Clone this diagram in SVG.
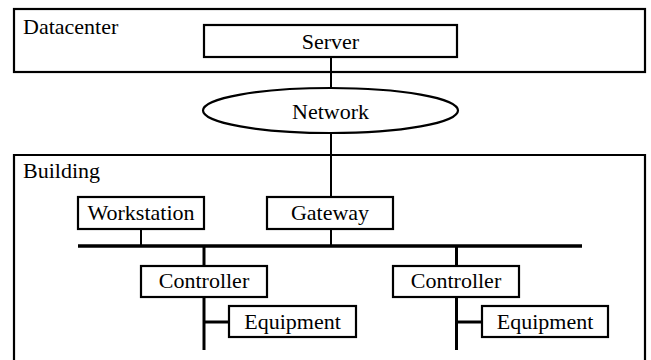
<svg xmlns="http://www.w3.org/2000/svg" width="651" height="360" viewBox="0 0 651 360">
  <rect width="651" height="360" fill="#fff"/>

  <!-- zones -->
  <g id="datacenter">
    <rect x="14" y="9" width="631" height="63" fill="none" stroke="#000" stroke-width="2.2"/>
    <text x="23" y="34" style="font-family: 'Times New Roman', serif; font-size: 22px">Datacenter</text>
  </g>
  <g id="building">
    <path d="M14,370 V155 H645 V370" fill="none" stroke="#000" stroke-width="2.2"/>
    <text x="23" y="178" style="font-family: 'Times New Roman', serif; font-size: 22px">Building</text>
  </g>

  <!-- connectors -->
  <g id="connectors" stroke="#000" fill="none">
    <g stroke-width="2">
      <line x1="331" y1="57" x2="331" y2="88"/>
      <line x1="331" y1="133" x2="331" y2="197"/>
      <line x1="141" y1="229" x2="141" y2="246"/>
      <line x1="331" y1="229" x2="331" y2="246"/>
    </g>
    <line x1="78" y1="246" x2="582" y2="246" stroke-width="3.5"/>
    <g stroke-width="3">
      <line x1="204" y1="246" x2="204" y2="266"/>
      <line x1="456.5" y1="246" x2="456.5" y2="266"/>
      <line x1="204" y1="297" x2="204" y2="350"/>
      <line x1="204" y1="322" x2="229" y2="322"/>
      <line x1="456.5" y1="297" x2="456.5" y2="350"/>
      <line x1="456.5" y1="322" x2="482" y2="322"/>
    </g>
  </g>

  <!-- nodes -->
  <g id="server">
    <rect x="204" y="25" width="253" height="32" fill="#fff" stroke="#000" stroke-width="2.2"/>
    <text x="330.5" y="49" text-anchor="middle" style="font-family: 'Times New Roman', serif; font-size: 22px">Server</text>
  </g>
  <g id="network">
    <ellipse cx="330.5" cy="110.5" rx="127.5" ry="22.5" fill="#fff" stroke="#000" stroke-width="2.2"/>
    <text x="330.5" y="119" text-anchor="middle" style="font-family: 'Times New Roman', serif; font-size: 22px">Network</text>
  </g>
  <g id="workstation">
    <rect x="78" y="197" width="126" height="32" fill="#fff" stroke="#000" stroke-width="2.2"/>
    <text x="141" y="220" text-anchor="middle" style="font-family: 'Times New Roman', serif; font-size: 22px">Workstation</text>
  </g>
  <g id="gateway">
    <rect x="267" y="197" width="126" height="32" fill="#fff" stroke="#000" stroke-width="2.2"/>
    <text x="330" y="220" text-anchor="middle" style="font-family: 'Times New Roman', serif; font-size: 22px">Gateway</text>
  </g>
  <g id="controller1">
    <rect x="141" y="266" width="126" height="31" fill="#fff" stroke="#000" stroke-width="2.2"/>
    <text x="204" y="288" text-anchor="middle" style="font-family: 'Times New Roman', serif; font-size: 22px">Controller</text>
  </g>
  <g id="controller2">
    <rect x="393" y="266" width="126" height="31" fill="#fff" stroke="#000" stroke-width="2.2"/>
    <text x="456" y="288" text-anchor="middle" style="font-family: 'Times New Roman', serif; font-size: 22px">Controller</text>
  </g>
  <g id="equipment1">
    <rect x="229" y="306" width="127" height="31" fill="#fff" stroke="#000" stroke-width="2.2"/>
    <text x="292.5" y="329" text-anchor="middle" style="font-family: 'Times New Roman', serif; font-size: 22px">Equipment</text>
  </g>
  <g id="equipment2">
    <rect x="482" y="306" width="126" height="31" fill="#fff" stroke="#000" stroke-width="2.2"/>
    <text x="545" y="329" text-anchor="middle" style="font-family: 'Times New Roman', serif; font-size: 22px">Equipment</text>
  </g>
</svg>
